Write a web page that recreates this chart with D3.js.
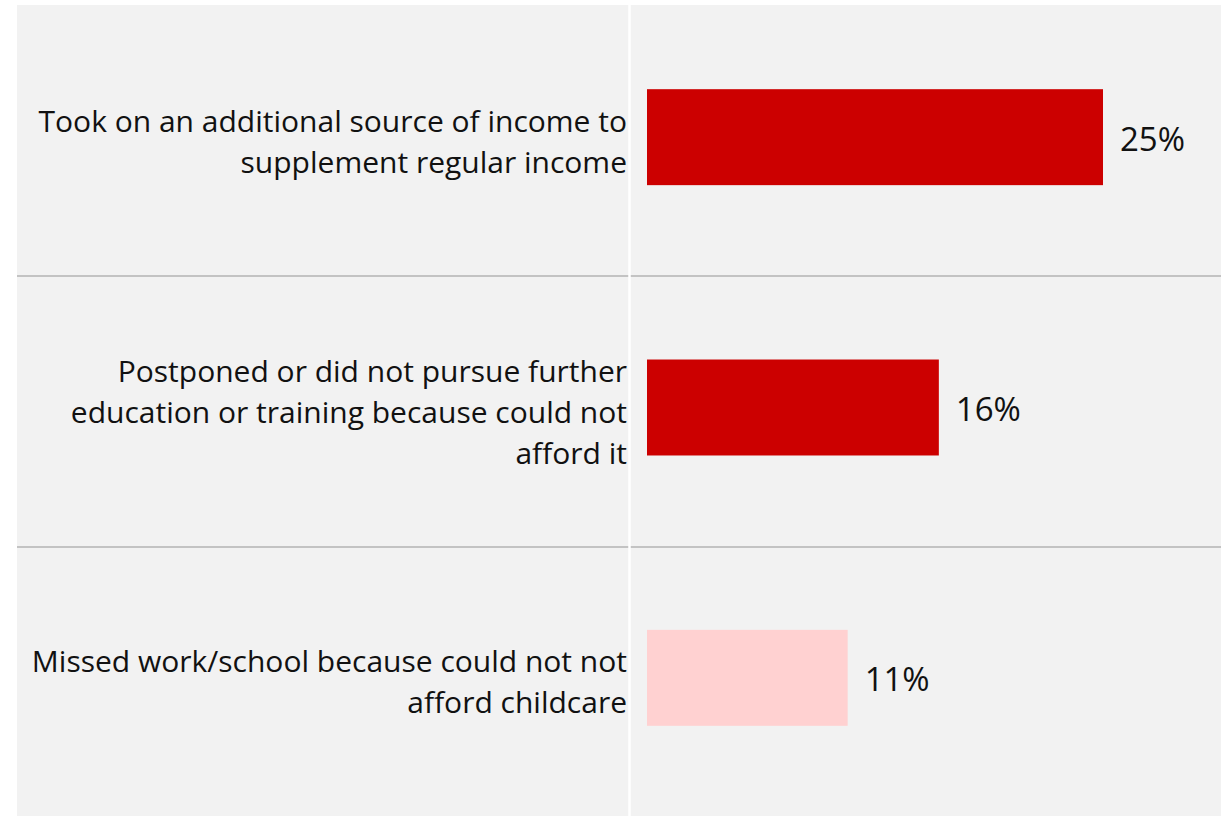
<!DOCTYPE html>
<html>
<head>
<meta charset="utf-8">
<script src="https://cdn.jsdelivr.net/npm/d3@7"></script>
<style>
  html, body { margin: 0; padding: 0; background: #ffffff; }
  svg { display: block; }
  text { font-family: "Open Sans", "Noto Sans", sans-serif; }
</style>
</head>
<body>
<svg id="chart" width="1221" height="816"></svg>
<script>
// Category labels, split into the lines they are drawn on
const categories = [
  "Took on an additional source of income to supplement regular income",
  "Postponed or did not pursue further education or training because could not afford it",
  "Missed work/school because could not not afford childcare"
];
const labelLines = [
  ["Took on an additional source of income to", "supplement regular income"],
  ["Postponed or did not pursue further", "education or training because could not", "afford it"],
  ["Missed work/school because could not not", "afford childcare"]
];
// Share of respondents (%)
const values = [25, 16, 11];
const barColors = ["#cc0000", "#cc0000", "#ffd1d1"];

const W = 1221, H = 816;
const panel = { left: 17, top: 5, right: W, bottom: H };
const divider = 629.5;

const svg = d3.select("#chart");

// panel background
svg.append("rect")
  .attr("x", panel.left).attr("y", panel.top)
  .attr("width", panel.right - panel.left)
  .attr("height", panel.bottom - panel.top)
  .attr("fill", "#f2f2f2");

// row bands
const rows = d3.scaleBand().domain(categories).range([5, 818]);
const y = d3.scaleBand().domain(categories).range([2, 813]).paddingInner(0.645).paddingOuter(0.3225);
const x = d3.scaleLinear().domain([0, d3.max(values)]).range([647, 1103]);

// separators between rows
svg.append("g").selectAll("line")
  .data(categories.slice(1))
  .join("line")
  .attr("x1", panel.left).attr("x2", panel.right)
  .attr("y1", d => rows(d)).attr("y2", d => rows(d))
  .attr("stroke", "#b3b3b3").attr("stroke-width", 1.5);

// vertical divider between labels and bars
svg.append("line")
  .attr("x1", divider).attr("x2", divider)
  .attr("y1", panel.top).attr("y2", panel.bottom)
  .attr("stroke", "#ffffff").attr("stroke-width", 2.5);

// bars
svg.append("g").selectAll("rect")
  .data(categories)
  .join("rect")
  .attr("x", x(0))
  .attr("y", d => y(d))
  .attr("width", (d, i) => x(values[i]) - x(0))
  .attr("height", y.bandwidth())
  .attr("fill", (d, i) => barColors[i]);

const labelSize = 30;
const valueSize = 33;
const lineH = 41;

// category labels, right aligned against the divider
const labels = svg.append("g").selectAll("text")
  .data(categories)
  .join("text")
  .attr("text-anchor", "end")
  .attr("font-size", labelSize)
  .attr("fill", "#111111");
labels.each(function(d, i) {
  const lines = labelLines[i];
  const cy = y(d) + y.bandwidth() / 2;
  d3.select(this).selectAll("tspan")
    .data(lines)
    .join("tspan")
    .attr("x", 627)
    .attr("y", (l, j) => cy + (j - (lines.length - 1) / 2) * lineH + 15)
    .text(l => l);
});

// value labels
svg.append("g").selectAll("text")
  .data(categories)
  .join("text")
  .attr("x", (d, i) => x(values[i]) + 17)
  .attr("y", d => y(d) + y.bandwidth() / 2 + 13.5)
  .attr("font-size", valueSize)
  .attr("fill", "#111111")
  .text((d, i) => values[i] + "%");
</script>
</body>
</html>
